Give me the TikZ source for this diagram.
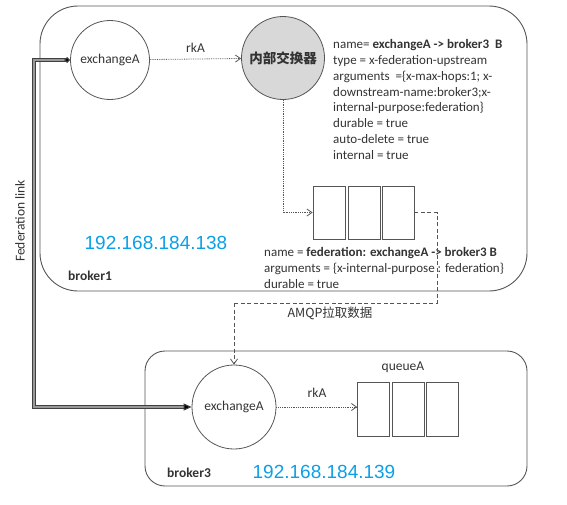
\documentclass[tikz,border=0pt]{standalone}
\usepackage{fontspec}
\setmainfont{Carlito}
\newfontfamily\cjk{Noto Sans CJK SC}
\newfontfamily\ipfont{Liberation Sans}
\usetikzlibrary{arrows.meta}
\definecolor{ln}{HTML}{555555}
\definecolor{tx}{HTML}{333333}
\definecolor{ipblue}{HTML}{0BA0E6}
\definecolor{innerfill}{HTML}{D8D8D8}
\tikzset{
  brokerbox/.style={draw=ln, line width=0.9pt},
  exnode/.style={circle, draw=ln, line width=0.8pt, minimum size=#1, inner sep=0pt, font=\fontsize{13.5}{15}\selectfont, text=tx},
  qbox/.style={draw=ln, line width=0.8pt, minimum width=32pt, minimum height=53pt, inner sep=0pt},
  dotline/.style={draw=ln, line width=0.8pt, densely dotted, -{Straight Barb[length=5pt,width=7pt]}},
  dashline/.style={draw=ln, line width=0.8pt, dash pattern=on 4pt off 2.5pt},
  info/.style={anchor=north west, align=left, inner sep=0pt, text=tx, font=\fontsize{13}{15.9}\selectfont},
  lbl/.style={text=tx, font=\fontsize{13.5}{15}\selectfont, inner sep=0pt},
  ip/.style={text=ipblue, font=\ipfont\fontsize{19}{21}\selectfont, inner sep=0pt},
  fedlink/.style={draw=black!75, double=black!40, double distance=1.2pt, line width=1pt}
}
\begin{document}
\begin{tikzpicture}[x=1pt,y=-1pt]
\useasboundingbox (0,0) rectangle (567,504);
% broker boxes
\draw[brokerbox, rounded corners=38pt] (40,6) rectangle (527,291);
\draw[brokerbox, rounded corners=20pt] (145,351) rectangle (527,486);
% broker1 contents
\node[exnode=79pt] (exA1) at (110,60) {exchangeA};
\node[exnode=83pt, fill=innerfill, font=\cjk\bfseries\fontsize{13.5}{15}\selectfont] (inner) at (283,58) {内部交换器};
\draw[dotline] (exA1) -- node[lbl, above=6pt] (rk1) {rkA} (inner);
\node[info] (info1) at (333,39) {name= \textbf{exchangeA -> broker3\ \ B}\\
type = x-federation-upstream\\
arguments \ =\{x-max-hops:1; x-\\
downstream-name:broker3;x-\\
internal-purpose:federation\}\\
durable = true\\
auto-delete = true\\
internal = true};
\node[qbox] (q1) at (329,212.5) {};
\node[qbox] (q2) at (364,212.5) {};
\node[qbox] (q3) at (398,212.5) {};
\draw[dotline] (inner.south) |- (q1.west);
\node[info] (info2) at (264,247.5) {name = \textbf{federation: exchangeA -> broker3 B}\\
arguments = \{x-internal-purpose : federation\}\\
durable = true};
\node[ip] (ip1) at (156,243) {192.168.184.138};
\node[lbl, anchor=west, font=\bfseries\fontsize{13.5}{15}\selectfont] (b1) at (68,276) {broker1};
% broker3 contents
\node[exnode=84pt] (exA3) at (234,407) {exchangeA};
\node[qbox, minimum height=54pt] (r1) at (373.5,409) {};
\node[qbox, minimum height=54pt] (r2) at (408,409) {};
\node[qbox, minimum height=54pt] (r3) at (442,409) {};
\node[lbl] (qa) at (403,367) {queueA};
\draw[dotline] (exA3) -- (exA3 -| r1.west);
\node[lbl] (rk3) at (317,393) {rkA};
\node[ip] (ip3) at (324,472) {192.168.184.139};
\node[lbl, anchor=west, font=\bfseries\fontsize{13.5}{15}\selectfont] (b3) at (167,473) {broker3};
% AMQP pull
\coordinate (d1) at (437,303);
\coordinate (d2) at (234,303);
\draw[dashline] (q3.east) -| (d1) -- (d2);
\draw[dashline, -{Straight Barb[length=5pt,width=7pt]}] (d2) -- (exA3.north);
\node[lbl, font=\cjk\fontsize{12.5}{14}\selectfont] (amqp) at (330,313) {AMQP拉取数据};
% federation link
\coordinate (fl) at (34,200);
\draw[fedlink, {Diamond[length=6pt,width=6pt,fill=black]}-{Triangle[length=8pt,width=7pt,fill=black]}] (exA1.west) -| (fl) |- (exA3.west);
\node[lbl, rotate=90] (fltext) at (20,221) {Federation link};
\end{tikzpicture}
\end{document}
